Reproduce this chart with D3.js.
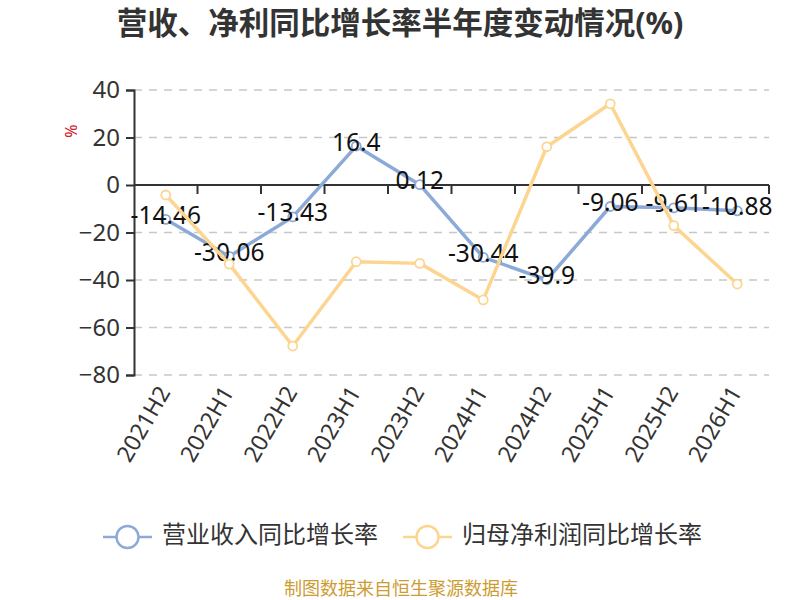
<!DOCTYPE html>
<html>
<head>
<meta charset="utf-8">
<script src="https://cdn.jsdelivr.net/npm/d3@7"></script>
<style>
  body { margin: 0; background: #fff; }
  svg { display: block; font-family: "Noto Sans", "Noto Sans CJK SC", sans-serif; }
</style>
</head>
<body>
<div id="wrapper"></div>
<script>
const periods = ["2021H2", "2022H1", "2022H2", "2023H1", "2023H2", "2024H1", "2024H2", "2025H1", "2025H2", "2026H1"]
const revenueGrowth = [-14.46, -30.06, -13.43, 16.4, 0.12, -30.44, -39.9, -9.06, -9.61, -10.88]
const profitGrowth = [-4.2, -33.3, -67.8, -32.3, -33.0, -48.4, 16.1, 34.2, -17.1, -41.7]
const yTicks = [-80, -60, -40, -20, 0, 20, 40]
const seriesNames = ["营业收入同比增长率", "归母净利润同比增长率"]

function drawChart() {
  const dimensions = {
    width: 800,
    height: 600,
    margins: { top: 90, right: 31, bottom: 225, left: 134 },
  }
  dimensions.boundedWidth = dimensions.width - dimensions.margins.left - dimensions.margins.right
  dimensions.boundedHeight = dimensions.height - dimensions.margins.top - dimensions.margins.bottom

  const colors = ["#8caad8", "#fcd590"]

  const wrapper = d3.select("#wrapper").append("svg")
    .attr("width", dimensions.width)
    .attr("height", dimensions.height)

  // title
  wrapper.append("text")
    .attr("x", 400).attr("y", 34)
    .attr("text-anchor", "middle")
    .attr("font-size", 30.5).attr("font-weight", "bold")
    .attr("fill", "#333")
    .text("营收、净利同比增长率半年度变动情况(%)")

  const bounds = wrapper.append("g")
    .attr("transform", `translate(${dimensions.margins.left},${dimensions.margins.top})`)

  // scales
  const xScale = d3.scaleBand().domain(periods).range([0, dimensions.boundedWidth])
  const yScale = d3.scaleLinear().domain([-80, 40]).range([dimensions.boundedHeight, 0])
  const xPos = (d, i) => xScale(periods[i]) + xScale.bandwidth() / 2

  // grid
  bounds.append("g").selectAll("line")
    .data(yTicks.filter(d => d !== 0))
    .join("line")
    .attr("x1", 0).attr("x2", dimensions.boundedWidth)
    .attr("y1", d => yScale(d)).attr("y2", d => yScale(d))
    .attr("stroke", "#c8c8c8").attr("stroke-width", 1.5)
    .attr("stroke-dasharray", "8,7")

  // y axis
  const yAxis = bounds.append("g")
    .call(d3.axisLeft(yScale).tickValues(yTicks).tickSize(8).tickPadding(6))
  yAxis.select(".domain").attr("stroke", "#333").attr("stroke-width", 2)
  yAxis.selectAll(".tick line").attr("stroke", "#333").attr("stroke-width", 2)
  yAxis.selectAll(".tick text").attr("font-size", 24).attr("fill", "#333")
    .attr("font-family", "Noto Sans, sans-serif")

  wrapper.append("text")
    .attr("transform", "translate(77,131) rotate(-90)")
    .attr("text-anchor", "middle")
    .attr("font-size", 16).attr("fill", "#d0202a")
    .text("%")

  // x axis on zero
  const boundaries = d3.range(periods.length + 1).map(i => i * xScale.step())
  const xAxis = bounds.append("g").attr("transform", `translate(0,${yScale(0)})`)
  xAxis.append("line")
    .attr("x1", 0).attr("x2", dimensions.boundedWidth)
    .attr("stroke", "#333").attr("stroke-width", 2)
  xAxis.selectAll(".xtick")
    .data(boundaries.slice(1))
    .join("line")
    .attr("class", "xtick")
    .attr("x1", d => d).attr("x2", d => d)
    .attr("y1", 0).attr("y2", 9)
    .attr("stroke", "#333").attr("stroke-width", 2)

  // x labels at bottom
  bounds.append("g").selectAll("text")
    .data(periods)
    .join("text")
    .attr("transform", d => `translate(${xScale(d) + xScale.bandwidth() / 2},${dimensions.boundedHeight + 14}) rotate(-60)`)
    .attr("text-anchor", "end")
    .attr("dominant-baseline", "middle")
    .attr("font-size", 23).attr("fill", "#333")
    .text(d => d)

  const line = d3.line().x((d, i) => xPos(d, i)).y(d => yScale(d))

  function drawSeries(values, color, withLabels) {
    const g = bounds.append("g")
    g.append("path")
      .datum(values)
      .attr("d", line)
      .attr("fill", "none")
      .attr("stroke", color).attr("stroke-width", 3.5)
      .attr("stroke-linejoin", "round")
    g.selectAll("circle")
      .data(values)
      .join("circle")
      .attr("cx", (d, i) => xPos(d, i))
      .attr("cy", d => yScale(d))
      .attr("r", 4.5)
      .attr("fill", "#fff")
      .attr("stroke", color).attr("stroke-width", 1.8)
    if (withLabels) {
      g.selectAll("text")
        .data(values)
        .join("text")
        .attr("x", (d, i) => xPos(d, i))
        .attr("y", d => yScale(d) - 2)
        .attr("text-anchor", "middle")
        .attr("dominant-baseline", "middle")
        .attr("font-size", 24.5).attr("fill", "#111")
        .text(d => d)
    }
  }

  drawSeries(revenueGrowth, colors[0], true)
  drawSeries(profitGrowth, colors[1], false)

  // legend
  const legendX = [103, 403]
  const legend = wrapper.append("g").selectAll("g")
    .data(seriesNames)
    .join("g")
    .attr("transform", (d, i) => `translate(${legendX[i]},537)`)
  legend.append("line")
    .attr("x1", 0).attr("x2", 49)
    .attr("stroke", (d, i) => colors[i]).attr("stroke-width", 2.5)
  legend.append("circle")
    .attr("cx", 24.5).attr("r", 11)
    .attr("fill", "#fff")
    .attr("stroke", (d, i) => colors[i]).attr("stroke-width", 2.5)
  legend.append("text")
    .attr("x", 59)
    .attr("dominant-baseline", "middle")
    .attr("font-size", 24).attr("fill", "#333")
    .text(d => d)

  // source
  wrapper.append("text")
    .attr("x", 401).attr("y", 590)
    .attr("text-anchor", "middle")
    .attr("dominant-baseline", "middle")
    .attr("font-size", 18).attr("fill", "#cc9c33")
    .text("制图数据来自恒生聚源数据库")
}

drawChart()
</script>
</body>
</html>
